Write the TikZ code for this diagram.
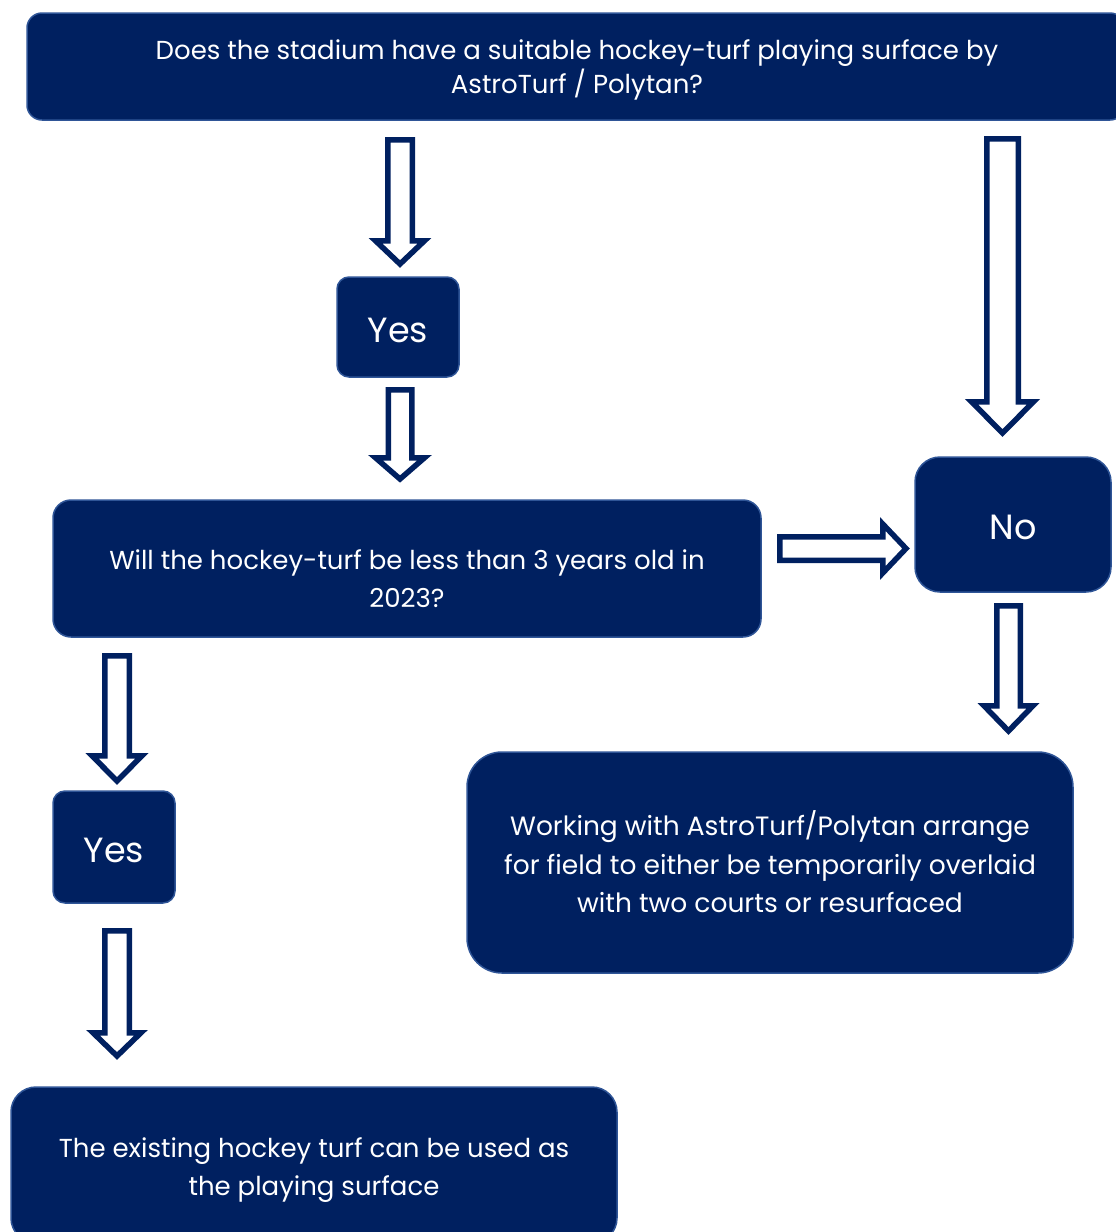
\documentclass[tikz,border=0pt]{standalone}
\usepackage{fontspec}
\setmainfont{Poppins}
\definecolor{navy}{HTML}{002060}
\definecolor{edge}{HTML}{2F5597}
\tikzset{
  box/.style={draw=edge, line width=1.5pt, fill=navy, text=white, align=center, inner sep=0pt},
  hollow/.style={draw=navy, fill=white, line width=5.5pt, line join=miter, miter limit=10},
  txt/.style={font=\fontsize{26}{34}\selectfont},
  bigtxt/.style={font=\fontsize{35}{40}\selectfont},
}
% down arrow, outer measures: cx, top, shoulder, tip, shaft half, head half
\newcommand{\hollowdown}[6]{%
  \draw[hollow] ({#1-#5+2.75},{#2+2.75}) -- ({#1+#5-2.75},{#2+2.75}) -- ({#1+#5-2.75},{#3+2.75})
    -- ({#1+#6-6.5},{#3+2.75}) -- (#1,{#4-4}) -- ({#1-#6+6.5},{#3+2.75}) -- ({#1-#5+2.75},{#3+2.75}) -- cycle;}
% right arrow: cy, left, shoulder, tip, shaft half, head half
\newcommand{\hollowright}[6]{%
  \draw[hollow] ({#2+2.75},{#1-#5+2.75}) -- ({#3+2.75},{#1-#5+2.75}) -- ({#3+2.75},{#1-#6+6.5})
    -- ({#4-4},#1) -- ({#3+2.75},{#1+#6-6.5}) -- ({#3+2.75},{#1+#5-2.75}) -- ({#2+2.75},{#1+#5-2.75}) -- cycle;}
\begin{document}
\begin{tikzpicture}[x=1pt,y=-1pt]
\useasboundingbox (0,0) rectangle (1116,1232);
\clip (0,0) rectangle (1116,1232);

\node[box, minimum width=1098pt, minimum height=107pt, rounded corners=15pt] (top) at (576,66.5) {};
\node[txt, text=white, align=center] (topt) at (577,70)
  {Does the stadium have a suitable hockey-turf playing surface by\\AstroTurf / Polytan?};
\node[box, minimum width=122pt, minimum height=100pt, rounded corners=12pt] (yes1) at (398,327) {};
\node[bigtxt, text=white] (yes1t) at (398,330) {Yes};
\node[box, minimum width=708pt, minimum height=137pt, rounded corners=18pt] (q2) at (407,568.5) {};
\node[font=\fontsize{26}{38}\selectfont, text=white, align=center] (q2t) at (407,579) {Will the hockey-turf be less than 3 years old in\\2023?};
\node[box, minimum width=196pt, minimum height=135pt, rounded corners=25pt] (no) at (1013,524.5) {};
\node[bigtxt, text=white] (not) at (1013,527) {No};
\node[box, minimum width=606pt, minimum height=221pt, rounded corners=35pt] (work) at (770,862.5) {};
\node[font=\fontsize{26.5}{38.5}\selectfont, text=white, align=center] (workt) at (770,862)
  {Working with AstroTurf/Polytan arrange\\for field to either be temporarily overlaid\\with two courts or resurfaced};
\node[box, minimum width=122pt, minimum height=112pt, rounded corners=12pt] (yes2) at (114,847) {};
\node[bigtxt, text=white] (yes2t) at (114,850) {Yes};
\node[box, minimum width=606pt, minimum height=156pt, rounded corners=25pt] (bottom) at (314,1165) {};
\node[font=\fontsize{26}{38}\selectfont, text=white, align=center] (bottomt) at (314,1170)
  {The existing hockey turf can be used as\\the playing surface};

\hollowdown{400}{137}{238}{268}{15}{31}
\hollowdown{1002.5}{136}{399}{437}{18.5}{37.5}
\hollowdown{400}{387}{455}{483}{14.5}{31}
\hollowright{548.5}{777}{880}{910}{14.5}{31}
\hollowdown{1008.5}{603}{703}{735}{14.5}{31}
\hollowdown{117}{653}{753}{785}{15}{31.5}
\hollowdown{117}{928}{1030}{1060}{15}{30.5}
\end{tikzpicture}
\end{document}
